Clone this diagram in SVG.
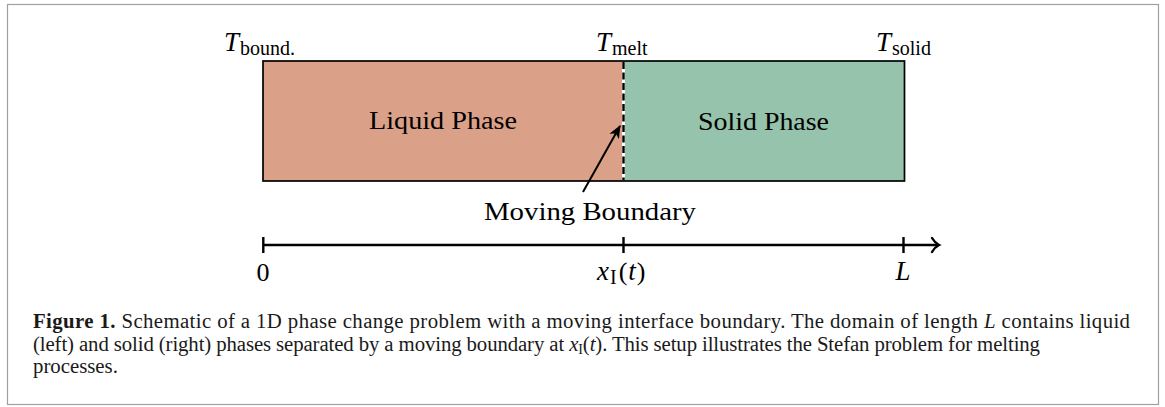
<svg xmlns="http://www.w3.org/2000/svg" width="1165" height="407" viewBox="0 0 1165 407">
  <style>
    .lbl { font-family: "Liberation Serif", "Times New Roman", serif; font-size: 26px; fill: #000; }
    .mi { font-family: "Liberation Serif", "Times New Roman", serif; font-style: italic; font-size: 27px; fill: #000; }
    .sub { font-family: "Liberation Serif", "Times New Roman", serif; font-size: 20px; fill: #000; }
    .cap { font-family: "Liberation Serif", "Times New Roman", serif; font-size: 20.8px; fill: #1a1a1a; }
    .axis { stroke: #000; stroke-width: 2.4; fill: none; }
  </style>
  <defs>
    <marker id="stealth" viewBox="0 0 12 10" refX="11" refY="5" markerWidth="13" markerHeight="11" markerUnits="userSpaceOnUse" orient="auto">
      <path d="M0,0 L12,5 L0,10 L3,5 Z" fill="#000"/>
    </marker>
  </defs>

  <rect x="7.5" y="4.5" width="1151" height="400" fill="#fff" stroke="#a0a0a0" stroke-width="1.2"/>

  <g id="liquid">
    <rect x="263" y="61" width="360.5" height="120" fill="#DBA088"/>
    <text class="lbl" x="443" y="129" text-anchor="middle" textLength="148" lengthAdjust="spacingAndGlyphs">Liquid Phase</text>
  </g>
  <g id="solid">
    <rect x="623.5" y="61" width="281" height="120" fill="#96C3AC"/>
    <text class="lbl" x="763.5" y="130" text-anchor="middle" textLength="131" lengthAdjust="spacingAndGlyphs">Solid Phase</text>
  </g>
  <g id="domain-border">
    <rect x="263" y="61" width="641.5" height="120" fill="none" stroke="#000" stroke-width="1.7"/>
  </g>
  <g id="interface">
    <line x1="623.5" y1="62" x2="623.5" y2="180" stroke="#fff" stroke-width="3"/>
    <line x1="623.5" y1="62" x2="623.5" y2="180" stroke="#000" stroke-width="2.4" stroke-dasharray="7 3.5"/>
  </g>

  <g id="temp-labels">
    <text x="224" y="51"><tspan class="mi">T</tspan><tspan class="sub" dy="4" dx="1">bound.</tspan></text>
    <text x="596" y="51"><tspan class="mi">T</tspan><tspan class="sub" dy="4" dx="1">melt</tspan></text>
    <text x="876" y="51"><tspan class="mi">T</tspan><tspan class="sub" dy="4" dx="1">solid</tspan></text>
  </g>

  <g id="connectors">
    <line x1="583" y1="192" x2="620" y2="126" stroke="#000" stroke-width="2" marker-end="url(#stealth)"/>
  </g>
  <g id="moving-boundary-label">
    <text class="lbl" x="590" y="220" text-anchor="middle" textLength="212" lengthAdjust="spacingAndGlyphs">Moving Boundary</text>
  </g>

  <g id="axis">
    <line class="axis" x1="263" y1="245" x2="938" y2="245"/>
    <path class="axis" d="M932,238 Q935,243 939,245 Q935,247 932,252" stroke-linecap="round"/>
    <line class="axis" x1="263.3" y1="237" x2="263.3" y2="253"/>
    <line class="axis" x1="623.5" y1="237" x2="623.5" y2="253"/>
    <line class="axis" x1="903.5" y1="237" x2="903.5" y2="253"/>
    <text class="lbl" x="263" y="281" text-anchor="middle">0</text>
    <text x="597" y="280"><tspan class="mi">x</tspan><tspan class="sub" dy="4" font-size="17" dx="1">I</tspan><tspan class="lbl" dy="-4" dx="2" font-size="28">(</tspan><tspan class="mi" dx="1">t</tspan><tspan class="lbl" dx="1" font-size="28">)</tspan></text>
    <text class="mi" x="903" y="280" text-anchor="middle">L</text>
  </g>

  <g id="caption">
    <text class="cap" x="33" y="328" textLength="1097" lengthAdjust="spacing"><tspan font-weight="bold">Figure 1.</tspan> Schematic of a 1D phase change problem with a moving interface boundary. The domain of length <tspan font-style="italic">L</tspan> contains liquid</text>
    <text class="cap" x="33" y="350.5" textLength="1007" lengthAdjust="spacing">(left) and solid (right) phases separated by a moving boundary at <tspan font-style="italic">x</tspan><tspan font-size="14" dy="3">I</tspan><tspan dy="-3">(</tspan><tspan font-style="italic">t</tspan>). This setup illustrates the Stefan problem for melting</text>
    <text class="cap" x="33" y="373">processes.</text>
  </g>
</svg>
